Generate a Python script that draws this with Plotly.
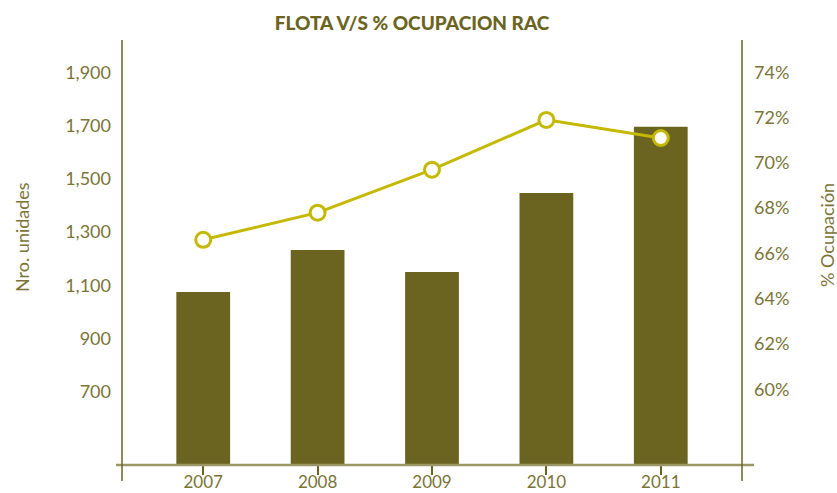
import plotly.graph_objects as go

years = ["2007", "2008", "2009", "2010", "2011"]
flota = [1075, 1232, 1150, 1447, 1695]
ocupacion = [66.6, 67.8, 69.7, 71.9, 71.1]

left_tickvals = [700, 900, 1100, 1300, 1500, 1700, 1900]
left_ticktext = ["700", "900", "1,100", "1,300", "1,500", "1,700", "1,900"]
right_tickvals = [60, 62, 64, 66, 68, 70, 72, 74]
right_ticktext = ["60%", "62%", "64%", "66%", "68%", "70%", "72%", "74%"]
tick_marks = [0, 1, 2, 3, 4, 5]

OLIVE = "#6b6421"
TEXT = "#7a7436"
YEL = "#c4b800"
FONT = "Lato"
FS = 18

W, H = 837, 493
L, T = 122, 40
R = W - 742
B = H - 465
pw, ph = W - L - R, H - T - B

def px_x(p):
    return (p - L) / pw

def px_y(p):
    return (H - B - p) / ph

fig = go.Figure()
fig.add_trace(go.Bar(x=years, y=flota, width=0.47, marker=dict(color=OLIVE, line=dict(width=0)),
                     yaxis="y", showlegend=False))
fig.add_trace(go.Scatter(x=years, y=ocupacion, yaxis="y2", mode="lines+markers",
                         line=dict(color=YEL, width=3),
                         marker=dict(size=15, color="white", line=dict(color=YEL, width=3)),
                         showlegend=False))

fig.update_layout(
    width=W, height=H,
    margin=dict(l=L, r=R, t=T, b=B, autoexpand=False),
    plot_bgcolor="white", paper_bgcolor="white",
    font=dict(family=FONT, color=TEXT, size=FS),
    title=dict(text="FLOTA V/S % OCUPACION RAC", x=412 / W, xanchor="center",
               y=1 - 23 / H, yanchor="middle",
               font=dict(family=FONT, size=19, color=OLIVE, weight=900), automargin=False),
    xaxis=dict(type="category", range=[-0.71, 4.71], showgrid=False, showline=False, zeroline=False,
               ticks="outside", ticklen=9, tickwidth=1.5, tickcolor=OLIVE, automargin=False,
               ticklabelstandoff=-7,
               tickfont=dict(size=17, color=TEXT, family=FONT)),
    yaxis=dict(range=[424.6, 2021.4], tickvals=left_tickvals, ticktext=left_ticktext, automargin=False,
               showgrid=False, showline=False, zeroline=False, ticks="", ticklabelstandoff=10,
               tickfont=dict(size=FS, color=TEXT, family=FONT)),
    yaxis2=dict(range=[56.65, 75.43], tickvals=right_tickvals, ticktext=right_ticktext, automargin=False,
                overlaying="y", side="right", showgrid=False, showline=False, zeroline=False,
                ticks="", ticklabelstandoff=11, tickfont=dict(size=FS, color=TEXT, family=FONT)),
    yaxis3=dict(range=[-1.068, 5.511], tickvals=tick_marks, overlaying="y", side="left", automargin=False,
                anchor="free", position=px_x(129.3), showticklabels=False, showgrid=False,
                showline=False, zeroline=False, ticks="outside", ticklen=12, tickwidth=1.5, tickcolor=OLIVE),
    yaxis4=dict(range=[-1.068, 5.511], tickvals=tick_marks, overlaying="y", side="right", automargin=False,
                anchor="free", position=px_x(737.7), showticklabels=False, showgrid=False,
                showline=False, zeroline=False, ticks="outside", ticklen=12, tickwidth=1.5, tickcolor=OLIVE),
    shapes=[
        dict(type="line", xref="paper", yref="paper", x0=px_x(116), x1=px_x(754), y0=0, y1=0,
             line=dict(color="#9c9666", width=2.5), layer="above"),
        dict(type="line", xref="paper", yref="paper", x0=0, x1=0, y0=px_y(481), y1=1,
             line=dict(color=OLIVE, width=1.5), layer="above"),
        dict(type="line", xref="paper", yref="paper", x0=1, x1=1, y0=px_y(481), y1=1,
             line=dict(color=OLIVE, width=1.5), layer="above"),
    ],
    annotations=[
        dict(text="Nro. unidades", xref="paper", yref="paper", x=px_x(22), y=px_y(237),
             textangle=-90, showarrow=False, xanchor="center", yanchor="middle",
             font=dict(size=FS, color=TEXT, family=FONT)),
        dict(text="% Ocupación", xref="paper", yref="paper", x=px_x(827), y=px_y(235),
             textangle=-90, showarrow=False, xanchor="center", yanchor="middle",
             font=dict(size=FS, color=TEXT, family=FONT)),
    ],
)

fig.write_html("out.html", config={"displayModeBar": False},
               post_script="document.body.style.margin='0';document.body.style.overflow='hidden';")
